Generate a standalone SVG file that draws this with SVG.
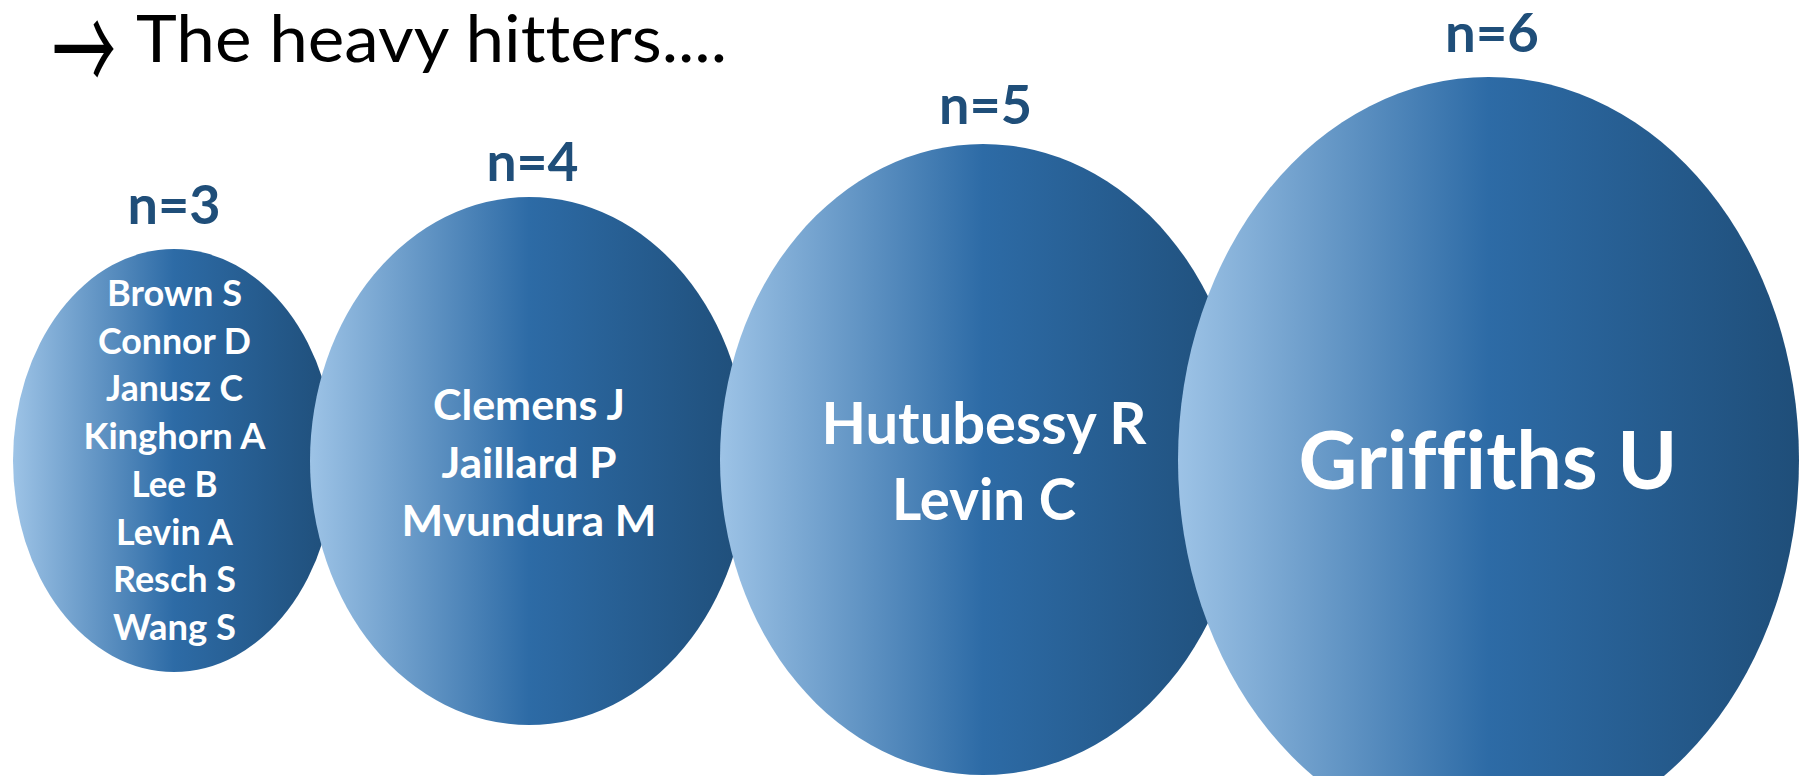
<svg xmlns="http://www.w3.org/2000/svg" width="1804" height="776" viewBox="0 0 1804 776">
  <style>
    text { font-variant-ligatures: none; font-feature-settings: "liga" 0, "clig" 0, "dlig" 0; }
    .title { font-family: Lato, "Liberation Sans", sans-serif; font-size: 66px; fill: #000000; }
    .arrow { font-family: "Noto Sans CJK JP", "DejaVu Sans", sans-serif; font-size: 64px; fill: #000000; }
    .n { font-family: Lato, "Liberation Sans", sans-serif; font-weight: 700; font-size: 54px; fill: #1F4E79; text-anchor: middle; }
    .nm { font-family: Lato, "Liberation Sans", sans-serif; font-weight: 700; fill: #FFFFFF; text-anchor: middle; }
    .bub { fill: url(#blueGrad); }
  </style>
  <defs>
    <linearGradient id="blueGrad" x1="0" y1="0" x2="1" y2="0">
      <stop offset="0" stop-color="#9DC3E6"/>
      <stop offset="0.5" stop-color="#2D6BA6"/>
      <stop offset="1" stop-color="#1F4E79"/>
    </linearGradient>
  </defs>
  <rect width="1804" height="776" fill="#FFFFFF"/>

  <g id="title">
    <text class="arrow" x="52" y="72" transform="translate(0 46) scale(1 1.9) translate(0 -46)">→</text>
    <text class="title" x="136" y="62" textLength="591" lengthAdjust="spacingAndGlyphs">The heavy hitters....</text>
  </g>

  <g id="node-n3">
    <ellipse class="bub" cx="174" cy="460.5" rx="161" ry="211.5"/>
    <text class="n" x="174" y="224" textLength="93" lengthAdjust="spacingAndGlyphs">n=3</text>
    <g class="nm" font-size="36.5">
      <text x="174.5" y="305.7" textLength="135" lengthAdjust="spacingAndGlyphs">Brown S</text>
      <text x="174.5" y="353.5" textLength="153" lengthAdjust="spacingAndGlyphs">Connor D</text>
      <text x="174.5" y="401.3" textLength="137" lengthAdjust="spacingAndGlyphs">Janusz C</text>
      <text x="174.5" y="449" textLength="182" lengthAdjust="spacingAndGlyphs">Kinghorn A</text>
      <text x="174.5" y="496.8" textLength="86" lengthAdjust="spacingAndGlyphs">Lee B</text>
      <text x="174.5" y="544.6" textLength="117" lengthAdjust="spacingAndGlyphs">Levin A</text>
      <text x="174.5" y="592.3" textLength="123" lengthAdjust="spacingAndGlyphs">Resch S</text>
      <text x="174.5" y="640" textLength="123" lengthAdjust="spacingAndGlyphs">Wang S</text>
    </g>
  </g>

  <g id="node-n4">
    <ellipse class="bub" cx="529" cy="461" rx="219" ry="264"/>
    <text class="n" x="532.5" y="181" textLength="92" lengthAdjust="spacingAndGlyphs">n=4</text>
    <g class="nm" font-size="42">
      <text x="529" y="420" textLength="192" lengthAdjust="spacingAndGlyphs">Clemens J</text>
      <text x="529" y="478" textLength="175" lengthAdjust="spacingAndGlyphs">Jaillard P</text>
      <text x="529" y="536" textLength="255" lengthAdjust="spacingAndGlyphs">Mvundura M</text>
    </g>
  </g>

  <g id="node-n5">
    <ellipse class="bub" cx="983" cy="459.5" rx="263" ry="315.5"/>
    <text class="n" x="985.5" y="124" textLength="93" lengthAdjust="spacingAndGlyphs">n=5</text>
    <g class="nm" font-size="57.5">
      <text x="984" y="444" textLength="325" lengthAdjust="spacingAndGlyphs">Hutubessy R</text>
      <text x="984" y="520" textLength="184" lengthAdjust="spacingAndGlyphs">Levin C</text>
    </g>
  </g>

  <g id="node-n6">
    <ellipse class="bub" cx="1488.5" cy="460" rx="310.5" ry="383"/>
    <text class="n" x="1492" y="52" textLength="94" lengthAdjust="spacingAndGlyphs">n=6</text>
    <g class="nm" font-size="80">
      <text x="1488" y="489" textLength="379" lengthAdjust="spacingAndGlyphs">Griffiths U</text>
    </g>
  </g>

  <g id="connectors"/>
</svg>
